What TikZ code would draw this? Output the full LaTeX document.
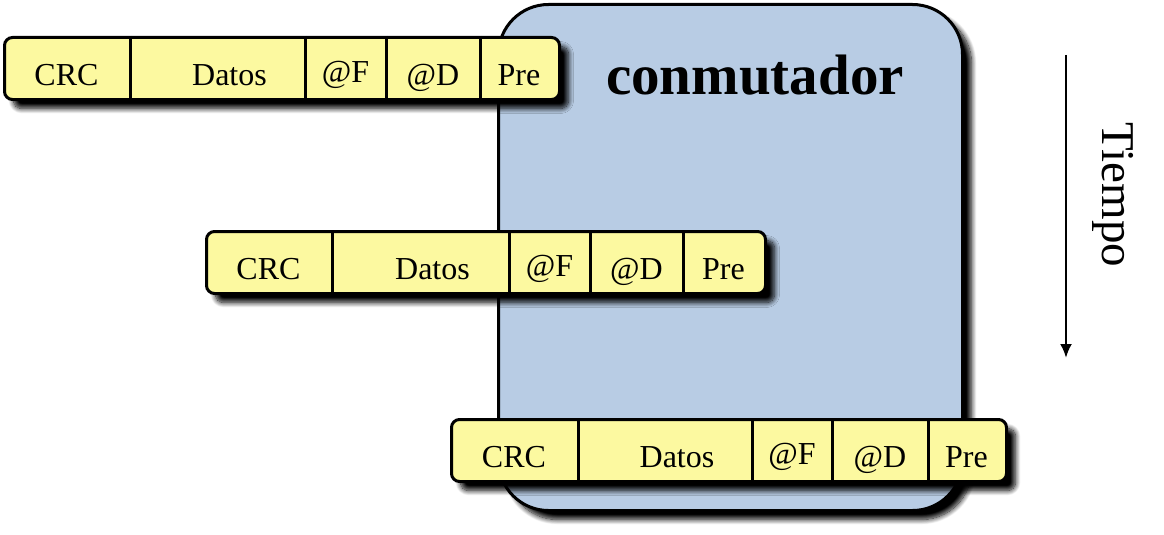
\documentclass[tikz,border=0pt]{standalone}
\usepackage{fontspec}
\setmainfont{Liberation Serif}
\usetikzlibrary{shadows.blur,arrows.meta}
\definecolor{boxblue}{HTML}{B8CCE4}
\definecolor{frameyel}{HTML}{FCF9A0}
\tikzset{
 shad/.style={blur shadow={shadow xshift=9pt,shadow yshift=-9pt,shadow blur radius=5pt,shadow opacity=100,shadow blur steps=12}},
 frm/.style={draw,line width=3pt,rounded corners=8pt,fill=frameyel,shad,inner sep=0pt,anchor=north west},
 fld/.style={font=\fontsize{32}{34}\selectfont,inner sep=0pt,anchor=base},
 divl/.style={line width=3pt},
}
\newcommand{\pkt}[8]{%
 \node[frm,minimum width={#4-#2},minimum height=62pt] (#1) at (#2,#3) {};
 \foreach \d in {#5,#6,#7,#8} \draw[divl] (\d,0 |- #1.north) -- (\d,0 |- #1.south);
 \node[fld] (#1crc) at ({(#2+#5)/2},{#3+49}) {CRC};
 \node[fld] (#1dat) at ({(#5+#6)/2+12},{#3+49}) {Datos};
 \node[fld] (#1af) at ({(#6+#7)/2},{#3+46}) {@F};
 \node[fld] (#1ad) at ({(#7+#8)/2},{#3+49}) {@D};
 \node[fld] (#1pre) at ({(#8+#4)/2},{#3+49}) {Pre};
}
\begin{document}
\begin{tikzpicture}[x=1pt,y=-1pt]
\useasboundingbox (0,0) rectangle (1164,535);
\node[draw,line width=3pt,rounded corners=50pt,fill=boxblue,shad,inner sep=0pt,
  minimum width=464pt,minimum height=506pt,anchor=north west] (sw) at (497,3) {};
\node[font=\bfseries\fontsize{57}{59}\selectfont,inner sep=0pt] (lbl) at (755,75) {conmutador};
\pkt{fa}{3}{36}{558}{130}{305}{386}{480}
\pkt{fb}{205}{230}{764}{332}{509}{590}{683}
\pkt{fc}{450}{418}{1005}{578}{752}{832}{928}
\coordinate (t0) at (1066,55);
\coordinate (t1) at (1066,358);
\draw[line width=2.5pt,-{Latex[length=14pt,width=12pt]}] (t0) -- (t1);
\node[rotate=-90,font=\fontsize{47}{49}\selectfont,inner sep=0pt] (tm) at (1113,195) {Tiempo};
\end{tikzpicture}
\end{document}
